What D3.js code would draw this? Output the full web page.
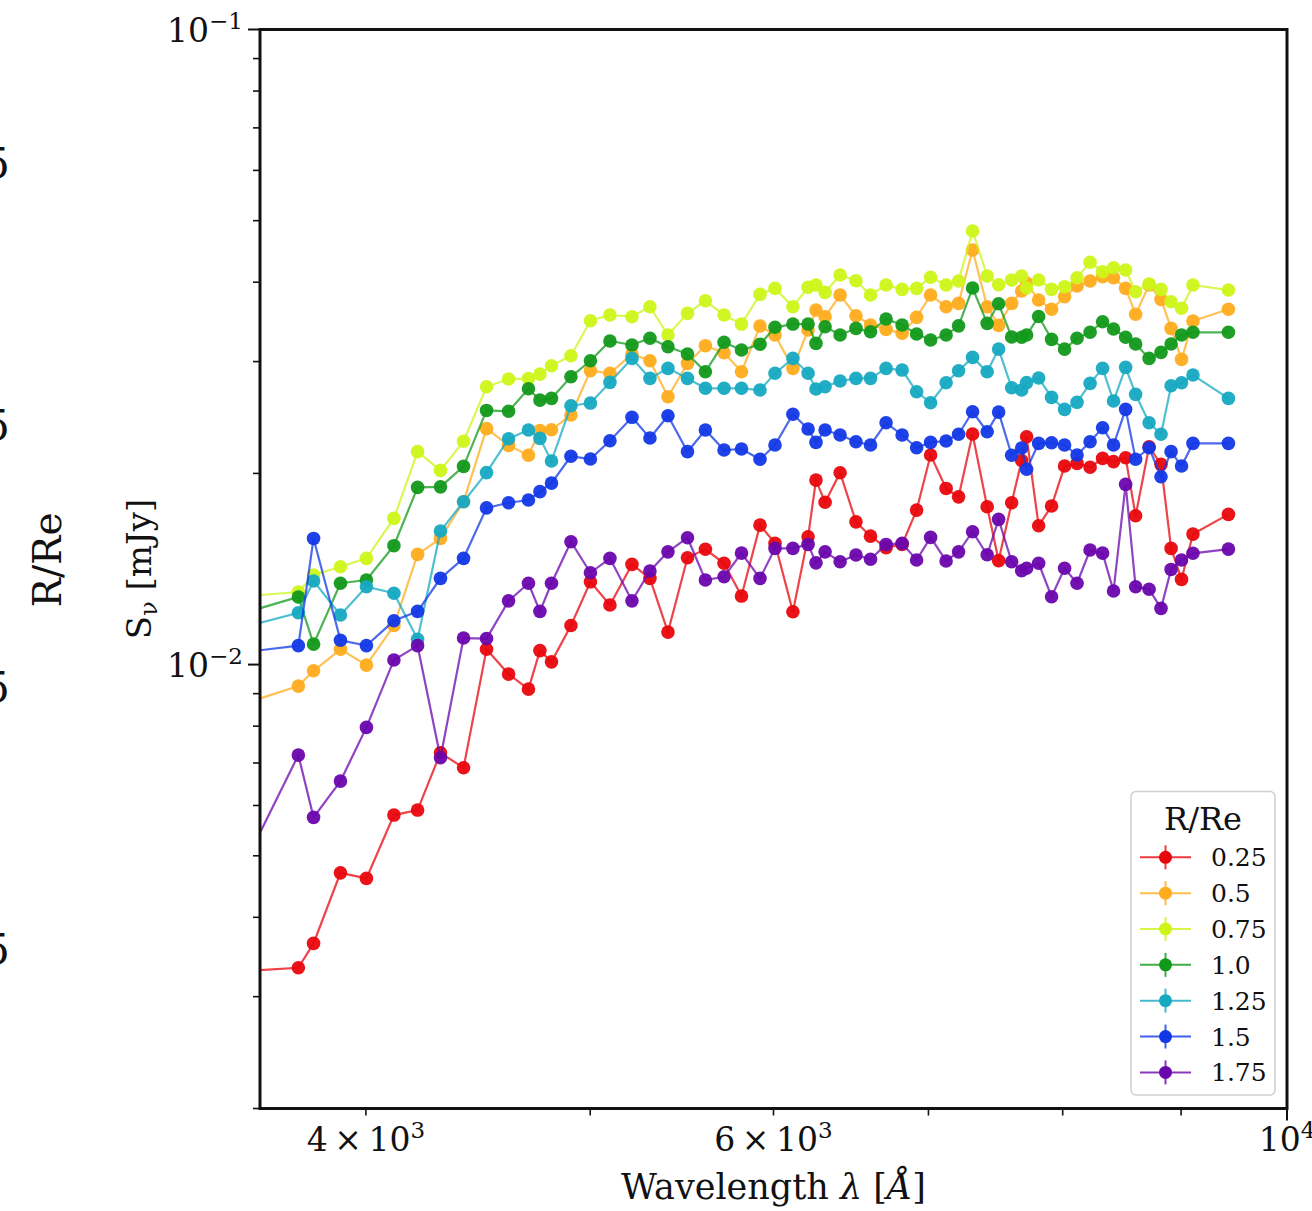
<!DOCTYPE html>
<html><head><meta charset="utf-8">
<script src="https://cdn.jsdelivr.net/npm/d3@7/dist/d3.min.js"></script>
<style>
body{margin:0;background:#fff}
svg{display:block}
text{font-family:"DejaVu Serif","Liberation Serif",serif;fill:#111}
</style>
</head><body>
<svg id="chart" width="1312" height="1211"></svg>
<script>
// wavelength bins (Angstrom); first bin lies left of the visible axis range
const wavelengths = [3511,3740,3797,3900,4002,4113,4211,4308,4408,4510,4610,4702,4756,4811,4905,5001,5099,5212,5306,5402,5508,5607,5712,5812,5920,6009,6117,6210,6259,6316,6411,6513,6608,6711,6819,6918,7015,7124,7213,7314,7421,7506,7604,7680,7718,7811,7912,8015,8115,8221,8324,8415,8517,8602,8718,8822,8911,9004,9107,9434];

// S_nu [mJy] per radius bin
const s025 = [0.003285,0.003331,0.003639,0.004700,0.004606,0.005795,0.005901,0.007263,0.006879,0.01057,0.009661,0.009150,0.01052,0.01010,0.01152,0.01350,0.01241,0.01438,0.01367,0.01125,0.01473,0.01519,0.01444,0.01282,0.01658,0.01552,0.01211,0.01589,0.01952,0.01801,0.02005,0.01678,0.01593,0.01528,0.01546,0.01751,0.02138,0.01894,0.01837,0.02307,0.01772,0.01458,0.01798,0.02096,0.02284,0.01654,0.01777,0.02054,0.02074,0.02045,0.02112,0.02087,0.02117,0.01715,0.02203,0.02067,0.01524,0.01362,0.01605,0.01724];
const s050 = [0.008585,0.009250,0.009778,0.01057,0.009982,0.01152,0.01491,0.01580,0.01805,0.02353,0.02214,0.02136,0.02336,0.02343,0.02472,0.02902,0.02875,0.03083,0.03009,0.02641,0.02981,0.03178,0.03097,0.02891,0.03413,0.03303,0.02927,0.03364,0.03617,0.03530,0.03819,0.03542,0.03425,0.03372,0.03324,0.03522,0.03819,0.03660,0.03705,0.04496,0.03660,0.03421,0.03705,0.03874,0.03989,0.03750,0.03626,0.03795,0.03945,0.04018,0.04081,0.04066,0.03912,0.03561,0.03960,0.03759,0.03384,0.03024,0.03475,0.03626];
const s075 = [0.01278,0.01301,0.01384,0.01426,0.01470,0.01699,0.02164,0.02022,0.02247,0.02738,0.02816,0.02821,0.02867,0.02955,0.03064,0.03479,0.03552,0.03530,0.03660,0.03303,0.03573,0.03740,0.03552,0.03437,0.03828,0.03912,0.03660,0.03927,0.03960,0.03856,0.04106,0.04022,0.03819,0.03960,0.03898,0.03912,0.04072,0.03960,0.04018,0.04816,0.04091,0.03964,0.04033,0.04091,0.03917,0.04033,0.03898,0.03935,0.04066,0.04300,0.04156,0.04216,0.04181,0.03864,0.03974,0.03898,0.03727,0.03639,0.03960,0.03888];
const s100 = [0.01194,0.01278,0.01077,0.01343,0.01359,0.01539,0.01901,0.01905,0.02052,0.02513,0.02505,0.02718,0.02609,0.02625,0.02839,0.03009,0.03232,0.03186,0.03264,0.03165,0.03083,0.02891,0.03217,0.03128,0.03194,0.03397,0.03437,0.03437,0.03205,0.03404,0.03303,0.03384,0.03343,0.03501,0.03425,0.03315,0.03244,0.03303,0.03415,0.03917,0.03446,0.03700,0.03279,0.03276,0.03303,0.03532,0.03252,0.03139,0.03264,0.03336,0.03466,0.03376,0.03276,0.03197,0.03035,0.03102,0.03197,0.03303,0.03336,0.03336];
const s125 = [0.01136,0.01207,0.01354,0.01197,0.01326,0.01295,0.01096,0.01623,0.01805,0.02006,0.02268,0.02341,0.02271,0.02092,0.02556,0.02581,0.02782,0.03035,0.02823,0.02927,0.02823,0.02723,0.02723,0.02723,0.02706,0.02875,0.03035,0.02875,0.02716,0.02738,0.02796,0.02823,0.02823,0.02927,0.02909,0.02689,0.02584,0.02778,0.02902,0.03046,0.02891,0.03139,0.02728,0.02706,0.02780,0.02826,0.02635,0.02523,0.02588,0.02772,0.02927,0.02600,0.02938,0.02664,0.02403,0.02305,0.02748,0.02778,0.02857,0.02625];
const s150 = [0.01042,0.01071,0.01580,0.01092,0.01071,0.01172,0.01213,0.01367,0.01470,0.01765,0.01798,0.01816,0.01872,0.01931,0.02128,0.02107,0.02251,0.02451,0.02274,0.02465,0.02164,0.02341,0.02177,0.02185,0.02105,0.02217,0.02478,0.02349,0.02238,0.02341,0.02299,0.02243,0.02217,0.02403,0.02299,0.02195,0.02238,0.02249,0.02305,0.02501,0.02326,0.02498,0.02136,0.02193,0.02030,0.02230,0.02235,0.02217,0.02138,0.02243,0.02360,0.02217,0.02523,0.02105,0.02195,0.01976,0.02164,0.02054,0.02230,0.02230];
const s175 = [0.004519,0.007203,0.005747,0.006555,0.007964,0.01017,0.01071,0.007132,0.01101,0.01099,0.01260,0.01343,0.01213,0.01343,0.01561,0.01395,0.01470,0.01260,0.01404,0.01505,0.01584,0.01359,0.01375,0.01498,0.01367,0.01524,0.01524,0.01546,0.01446,0.01505,0.01452,0.01488,0.01465,0.01546,0.01552,0.01461,0.01586,0.01456,0.01505,0.01619,0.01489,0.01693,0.01452,0.01405,0.01418,0.01444,0.01279,0.01418,0.01343,0.01515,0.01498,0.01306,0.01922,0.01326,0.01314,0.01226,0.01412,0.01461,0.01497,0.01520];

const seriesLabels = ["0.25","0.5","0.75","1.0","1.25","1.5","1.75"];
const seriesValues = [s025,s050,s075,s100,s125,s150,s175];
const seriesColors = ["#e8060c","#ffac1e","#cdf51a","#12991a","#16a9c2","#1238e6","#6a06ad"];

const xMinorTicks = [4000,5000,6000,7000,8000,9000];
const xMajorTicks = [10000];
const xTickLabels = [{v:4000,m:"4",e:"3"},{v:6000,m:"6",e:"3"},{v:10000,m:"",e:"4"}];
const yMajorTicks = [0.01,0.1];
const yMinorTicks = [0.002,0.003,0.004,0.005,0.006,0.007,0.008,0.009,0.02,0.03,0.04,0.05,0.06,0.07,0.08,0.09];
const yTickLabels = [{v:0.1,e:"\u22121"},{v:0.01,e:"\u22122"}];
const leftPanelTicks = ["5","5","5","5"];

const svg = d3.select("#chart");
const L = 260, R = 1287, T = 29.5, B = 1108.5;
const x = d3.scaleLog().domain([3600,10000]).range([L,R]);
const y = d3.scaleLog().domain([0.002,0.1]).range([B,T]);

// partial neighbouring panel on the left (its tick labels are cut by the page edge, as in the reference)
const lp = [163,425,687,949];
svg.selectAll("text.lp").data(leftPanelTicks).join("text").attr("class","lp")
  .attr("x",10).attr("y",(d,i)=>lp[i]).attr("dy","0.36em").attr("text-anchor","end")
  .attr("font-size",42).text(d=>d);
svg.append("text").attr("transform","translate(61,560) rotate(-90)")
  .attr("text-anchor","middle").attr("font-size",39).text("R/Re");

// clip
svg.append("clipPath").attr("id","clip").append("rect")
  .attr("x",L).attr("y",T).attr("width",R-L).attr("height",B-T);

const plot = svg.append("g").attr("clip-path","url(#clip)");
const line = d3.line().x((d,i)=>x(wavelengths[i])).y(d=>y(d));
seriesValues.forEach((vals,si)=>{
  const g = plot.append("g");
  g.append("path").datum(vals).attr("d",line).attr("fill","none")
    .attr("stroke",seriesColors[si]).attr("stroke-width",2.2).attr("stroke-opacity",0.75);
  g.selectAll("circle").data(vals).join("circle")
    .attr("cx",(d,i)=>x(wavelengths[i])).attr("cy",d=>y(d)).attr("r",6.8)
    .attr("fill",seriesColors[si]).attr("fill-opacity",0.95);
});

// axes ticks
const tickG = svg.append("g").attr("stroke","#111");
xMinorTicks.forEach(v=>tickG.append("line").attr("x1",x(v)).attr("x2",x(v)).attr("y1",B).attr("y2",B+7).attr("stroke-width",1.6));
xMajorTicks.forEach(v=>tickG.append("line").attr("x1",x(v)).attr("x2",x(v)).attr("y1",B).attr("y2",B+12).attr("stroke-width",2));
yMinorTicks.forEach(v=>tickG.append("line").attr("x1",L-7).attr("x2",L).attr("y1",y(v)).attr("y2",y(v)).attr("stroke-width",1.6));
yMajorTicks.forEach(v=>tickG.append("line").attr("x1",L-12).attr("x2",L).attr("y1",y(v)).attr("y2",y(v)).attr("stroke-width",2));

// frame
svg.append("rect").attr("x",L).attr("y",T).attr("width",R-L).attr("height",B-T)
  .attr("fill","none").attr("stroke","#111").attr("stroke-width",3);

// tick labels
xTickLabels.forEach(t=>{
  const tx = svg.append("text").attr("x",x(t.v)).attr("y",1151).attr("text-anchor","middle").attr("font-size",33);
  if(t.m){ tx.append("tspan").text(t.m+"\u2009\u00d7\u200910"); } else { tx.append("tspan").text("10"); }
  tx.append("tspan").attr("dy",-13).attr("font-size",23).text(t.e);
});
yTickLabels.forEach(t=>{
  const ty = svg.append("text").attr("x",243).attr("y",y(t.v)+12).attr("text-anchor","end").attr("font-size",33);
  ty.append("tspan").text("10");
  ty.append("tspan").attr("dy",-13).attr("font-size",23).text(t.e);
});

// axis labels
const xl = svg.append("text").attr("x",(L+R)/2).attr("y",1199).attr("text-anchor","middle").attr("font-size",35);
xl.append("tspan").text("Wavelength ");
xl.append("tspan").attr("font-style","italic").text("\u03bb");
xl.append("tspan").text(" [");
xl.append("tspan").attr("font-style","italic").text("\u00c5");
xl.append("tspan").text("]");

const yl = svg.append("text").attr("transform","translate(151,569) rotate(-90)").attr("text-anchor","middle").attr("font-size",34);
yl.append("tspan").text("S");
yl.append("tspan").attr("font-size",24).attr("dy",6).text("\u03bd");
yl.append("tspan").attr("dy",-6).text(" [mJy]");

// legend
const lg = svg.append("g");
lg.append("rect").attr("x",1131).attr("y",791.5).attr("width",144).attr("height",303.5).attr("rx",5)
  .attr("fill","#fff").attr("fill-opacity",0.85).attr("stroke","#cfcfcf").attr("stroke-width",1.5);
lg.append("text").attr("x",1203).attr("y",830).attr("text-anchor","middle").attr("font-size",32).text("R/Re");
seriesLabels.forEach((lab,i)=>{
  const cy = 857.3 + i*35.85;
  lg.append("line").attr("x1",1140).attr("x2",1191).attr("y1",cy).attr("y2",cy).attr("stroke",seriesColors[i]).attr("stroke-width",2).attr("stroke-opacity",0.8);
  lg.append("line").attr("x1",1165.5).attr("x2",1165.5).attr("y1",cy-12).attr("y2",cy+12).attr("stroke",seriesColors[i]).attr("stroke-width",2).attr("stroke-opacity",0.8);
  lg.append("circle").attr("cx",1165.5).attr("cy",cy).attr("r",6.5).attr("fill",seriesColors[i]);
  lg.append("text").attr("x",1211).attr("y",cy+9).attr("font-size",25).text(lab);
});
</script>
</body></html>
